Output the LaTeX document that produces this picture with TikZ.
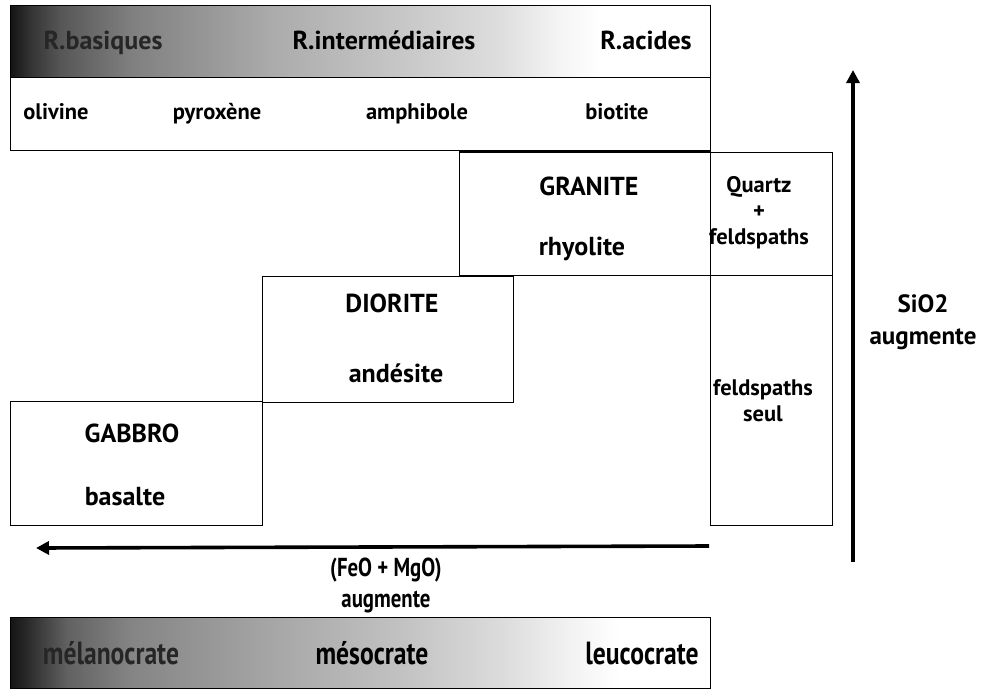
\documentclass[tikz,border=0pt]{standalone}
\usepackage{fontspec}
\setmainfont{PT Sans}
\newfontfamily\narrowfont[FakeStretch=0.8]{PT Sans}
\usetikzlibrary{arrows.meta}

% dark-to-light ramp, the useful part sits between 25bp and 75bp
\pgfdeclarehorizontalshading{toprampe}{100bp}{color(0bp)=(black!92); color(25bp)=(black!92);
  color(26.4bp)=(black!80); color(28.6bp)=(black!66); color(33.6bp)=(black!50);
  color(43.6bp)=(black!33); color(52.9bp)=(black!22); color(60bp)=(black!13);
  color(64.3bp)=(black!4); color(67.1bp)=(white); color(100bp)=(white)}
\pgfdeclarehorizontalshading{basrampe}{100bp}{color(0bp)=(black!92); color(25bp)=(black!92);
  color(26.4bp)=(black!82); color(29bp)=(black!62); color(33.6bp)=(black!48);
  color(43.6bp)=(black!35); color(52.9bp)=(black!24); color(60bp)=(black!14);
  color(65bp)=(black!5); color(68.5bp)=(white); color(100bp)=(white)}

\newcommand*{\rockfont}{\fontsize{26}{30}\selectfont\bfseries}
\newcommand*{\minfont}{\fontsize{22.5}{26}\selectfont\bfseries}
\newcommand*{\condfont}{\narrowfont\fontsize{32}{34}\selectfont\bfseries}

\begin{document}
\begin{tikzpicture}
[
	x=1pt,
	y=-1pt,
	rockbox/.style={draw, line width=1pt, inner sep=0pt, anchor=north west},
	lbl/.style={inner sep=0pt, text height=18pt, text depth=0pt, font=\rockfont},
	minlbl/.style={inner sep=0pt, text height=15.5pt, text depth=0pt, font=\minfont},
	condlbl/.style={inner sep=0pt, text height=22pt, text depth=0pt, font=\condfont},
	smalllbl/.style={inner sep=0pt, align=center, font=\minfont},
	bigarrow/.style={line width=3.6pt, -{Triangle[length=13pt, width=13pt]}}
]

	\useasboundingbox (0,0) rectangle (983,689);

	% bandeau du haut
	\node[rockbox, shade, shading=toprampe, minimum width=700pt, minimum height=72pt] (topbar) at (10,5) {};
	\node[lbl, text=black!85] (rbas) at (103,40) {R.basiques};
	\node[lbl] (rint) at (384,40) {R.intermédiaires};
	\node[lbl] (racid) at (646,40) {R.acides};

	% mineraux
	\node[rockbox, minimum width=700pt, minimum height=73pt] (minbar) at (10,77) {};
	\node[minlbl] (olivine) at (56,112) {olivine};
	\node[minlbl] (pyroxene) at (217,112) {pyroxène};
	\node[minlbl] (amphibole) at (417,112) {amphibole};
	\node[minlbl] (biotite) at (617,112) {biotite};

	% les trois familles
	\node[rockbox, minimum width=251pt, minimum height=123pt] (granite) at (459,152) {};
	\draw[line width=2.5pt] (granite.north west) -- (granite.north east);
	\node[lbl] (granitename) at (589,186) {GRANITE};
	\node[lbl] (rhyolite) at (582,246) {rhyolite};

	\node[rockbox, minimum width=251pt, minimum height=126pt] (diorite) at (262,276) {};
	\node[lbl] (dioritename) at (392,303) {DIORITE};
	\node[lbl] (andesite) at (396,373) {andésite};

	\node[rockbox, minimum width=252pt, minimum height=124pt] (gabbro) at (10,401) {};
	\node[lbl] (gabbroname) at (132,433) {GABBRO};
	\node[lbl] (basalte) at (125,496) {basalte};

	% colonne de droite
	\node[rockbox, minimum width=122pt, minimum height=123pt] (quartzbox) at (710,152) {};
	\node[smalllbl] (quartz) at (759,213) {\setlength{\baselineskip}{25pt}Quartz\\+\\feldspaths};

	\node[rockbox, minimum width=122pt, minimum height=250pt] (seulbox) at (710,275) {};
	\node[smalllbl] (seul) at (763,401) {\setlength{\baselineskip}{26pt}feldspaths\\seul};

	% fleches
	\coordinate (sioBase) at (853,562);
	\coordinate (sioTip) at (853,70);
	\draw[bigarrow] (sioBase) -- (sioTip);
	\node[inner sep=0pt, align=center, font=\fontsize{25}{32}\selectfont\bfseries] (sio) at (923,322) {SiO2\\augmente};

	\coordinate (feoBase) at (709,546);
	\coordinate (feoTip) at (36,548);
	\draw[bigarrow] (feoBase) -- (feoTip);
	\node[inner sep=0pt, align=center, font=\narrowfont\fontsize{26}{31}\selectfont\bfseries] (feo) at (386,585) {(FeO + MgO)\\augmente};

	% bandeau du bas
	\node[rockbox, shade, shading=basrampe, minimum width=700pt, minimum height=71pt] (basbar) at (10,617) {};
	\node[condlbl, text=black!85] (melano) at (111,653) {mélanocrate};
	\node[condlbl] (meso) at (372,653) {mésocrate};
	\node[condlbl] (leuco) at (642,653) {leucocrate};

\end{tikzpicture}
\end{document}
